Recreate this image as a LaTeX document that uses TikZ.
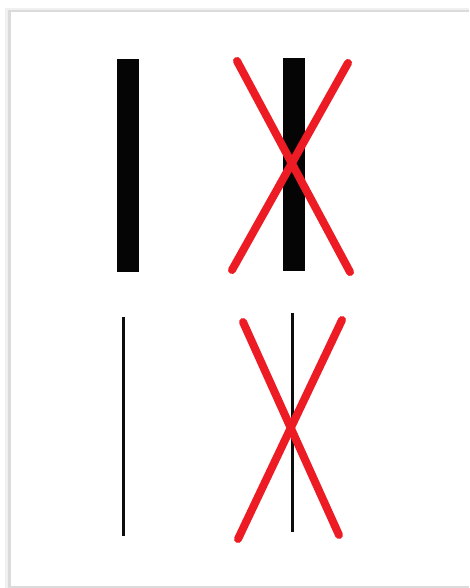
\documentclass[tikz,border=0pt]{standalone}
\usepackage{tikz}

\definecolor{xred}{RGB}{237,28,36}

\begin{document}
\begin{tikzpicture}[
  x=1pt, y=-1pt,
  thickbar/.style={fill=black!98},
  thinbar/.style={draw=black!95, line width=3pt},
  cross/.style={draw=xred, line width=8pt, line cap=round},
]
\useasboundingbox (0,0) rectangle (469,588);
\fill[white] (0,0) rectangle (469,588);
% page with its shadow
\fill[black!6]  (5,8)   rectangle (469,588);
\fill[black!14] (8,10)  rectangle (469,588);
\fill[white]    (11,12) rectangle (469,586);

% thick bars
\fill[thickbar] (117,59) rectangle (139,272);
\fill[thickbar] (283,58) rectangle (305,271);
\draw[cross] (237,61) -- (350,272);
\draw[cross] (348,63) -- (232,270);

% thin bars
\draw[thinbar] (123,317) -- (123,536);
\draw[thinbar] (292,313) -- (292,532);
\draw[cross] (243,322) -- (339,535);
\draw[cross] (342,320) -- (238,539);
\end{tikzpicture}
\end{document}
